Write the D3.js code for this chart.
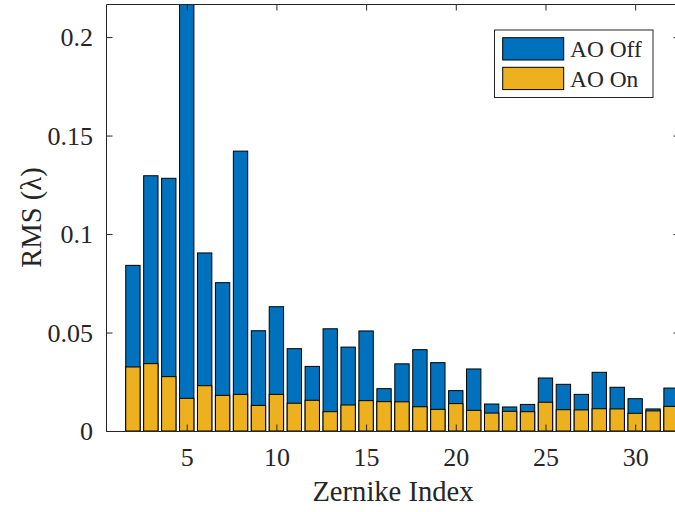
<!DOCTYPE html>
<html>
<head>
<meta charset="utf-8">
<script src="https://cdn.jsdelivr.net/npm/d3@7"></script>
<style>
  html, body { margin: 0; padding: 0; background: #fff; overflow: hidden; }
  svg { display: block; }
  text { font-family: "Liberation Serif", "Times New Roman", serif; fill: #262626; }
</style>
</head>
<body>
<svg id="chart" width="675" height="512"></svg>
<script>
// ---- data ----
const zernikeIndex = [2,3,4,5,6,7,8,9,10,11,12,13,14,15,16,17,18,19,20,21,22,23,24,25,26,27,28,29,30,31,32];
const aoOff = [0.0841, 0.1296, 0.1283, 0.2300, 0.0904, 0.0753, 0.1421, 0.0509, 0.0631, 0.0418,
               0.0328, 0.0519, 0.0426, 0.0508, 0.0215, 0.0341, 0.0413, 0.0347, 0.0205, 0.0315,
               0.0137, 0.0122, 0.0135, 0.0269, 0.0237, 0.0186, 0.0298, 0.0222, 0.0164, 0.0112, 0.0218];
const aoOn  = [0.0325, 0.0342, 0.0276, 0.0166, 0.0230, 0.0181, 0.0186, 0.0130, 0.0186, 0.0141,
               0.0156, 0.0098, 0.0132, 0.0154, 0.0149, 0.0148, 0.0123, 0.0110, 0.0139, 0.0105,
               0.0091, 0.0100, 0.0098, 0.0146, 0.0108, 0.0107, 0.0113, 0.0112, 0.0090, 0.0102, 0.0125];
const xTicks = [5, 10, 15, 20, 25, 30];
const yTicks = [0, 0.05, 0.1, 0.15, 0.2];
const yTickLabels = ["0", "0.05", "0.1", "0.15", "0.2"];
const seriesNames = ["AO Off", "AO On"];
const seriesColors = ["#0072BD", "#EDB120"];

// ---- layout ----
const L = 106, R = 680, T = 4, B = 431;
const axisColor = "#262626";
const svg = d3.select("#chart");

const x = d3.scaleLinear().domain([0.5, 32.5]).range([L, R]);
const y = d3.scaleLinear().domain([0, 0.2168]).range([B, T]);
const barW = x(0.8) - x(0);

svg.append("defs").append("clipPath").attr("id", "plotclip")
  .append("rect").attr("x", L).attr("y", T).attr("width", R - L).attr("height", B - T);

const plot = svg.append("g").attr("clip-path", "url(#plotclip)");

[aoOff, aoOn].forEach((vals, si) => {
  plot.append("g").selectAll("rect")
    .data(zernikeIndex.map((k, i) => ({ k, v: vals[i] })))
    .join("rect")
    .attr("x", d => x(d.k) - barW / 2)
    .attr("width", barW)
    .attr("y", d => y(d.v))
    .attr("height", d => y(0) - y(d.v))
    .attr("fill", seriesColors[si])
    .attr("stroke", "#000")
    .attr("stroke-width", 1);
});

// ---- axes ----
function styleAxis(g) {
  g.selectAll("path.domain").attr("stroke", axisColor).attr("stroke-width", 1);
  g.selectAll(".tick line").attr("stroke", axisColor).attr("stroke-width", 1);
}

const xAxis = svg.append("g").attr("transform", `translate(0,${B})`)
  .call(d3.axisBottom(x).tickValues(xTicks).tickSize(-6.5).tickSizeOuter(0).tickFormat(d3.format("d")));
styleAxis(xAxis);
xAxis.selectAll(".tick text").attr("y", 35).attr("dy", 0)
  .style("font-size", "26px").style("font-family", "Liberation Serif").attr("fill", axisColor);

const xTop = svg.append("g").attr("transform", `translate(0,${T})`)
  .call(d3.axisTop(x).tickValues(xTicks).tickSize(-6.5).tickSizeOuter(0).tickFormat(""));
styleAxis(xTop);

const yAxis = svg.append("g").attr("transform", `translate(${L},0)`)
  .call(d3.axisLeft(y).tickValues(yTicks).tickSize(-6.5).tickSizeOuter(0)
        .tickFormat((d, i) => yTickLabels[i]));
styleAxis(yAxis);
yAxis.selectAll(".tick text").attr("x", -13).attr("dy", "0.34em")
  .style("font-size", "26px").style("font-family", "Liberation Serif").attr("fill", axisColor);

const yRight = svg.append("g").attr("transform", `translate(${R},0)`)
  .call(d3.axisRight(y).tickValues(yTicks).tickSize(-6.5).tickSizeOuter(0).tickFormat(""));
styleAxis(yRight);

// ---- axis labels ----
svg.append("text")
  .attr("x", (L + R) / 2).attr("y", 501)
  .attr("text-anchor", "middle")
  .style("font-size", "28.6px")
  .text("Zernike Index");

svg.append("text")
  .attr("transform", `translate(41,${(T + B) / 2}) rotate(-90)`)
  .attr("text-anchor", "middle")
  .style("font-size", "28.6px")
  .text("RMS (λ)");

// ---- legend ----
const lg = svg.append("g");
lg.append("rect").attr("x", 494.5).attr("y", 30).attr("width", 158.5).attr("height", 67.5)
  .attr("fill", "#fff").attr("stroke", axisColor).attr("stroke-width", 1);
seriesNames.forEach((name, i) => {
  const yy = 37.7 + i * 29.6;
  lg.append("rect").attr("x", 502.7).attr("y", yy).attr("width", 61).attr("height", 22.3)
    .attr("fill", seriesColors[i]).attr("stroke", "#000").attr("stroke-width", 1);
  lg.append("text").attr("x", 570).attr("y", 56.7 + i * 30)
    .style("font-size", "23.4px").text(name);
});
</script>
</body>
</html>
